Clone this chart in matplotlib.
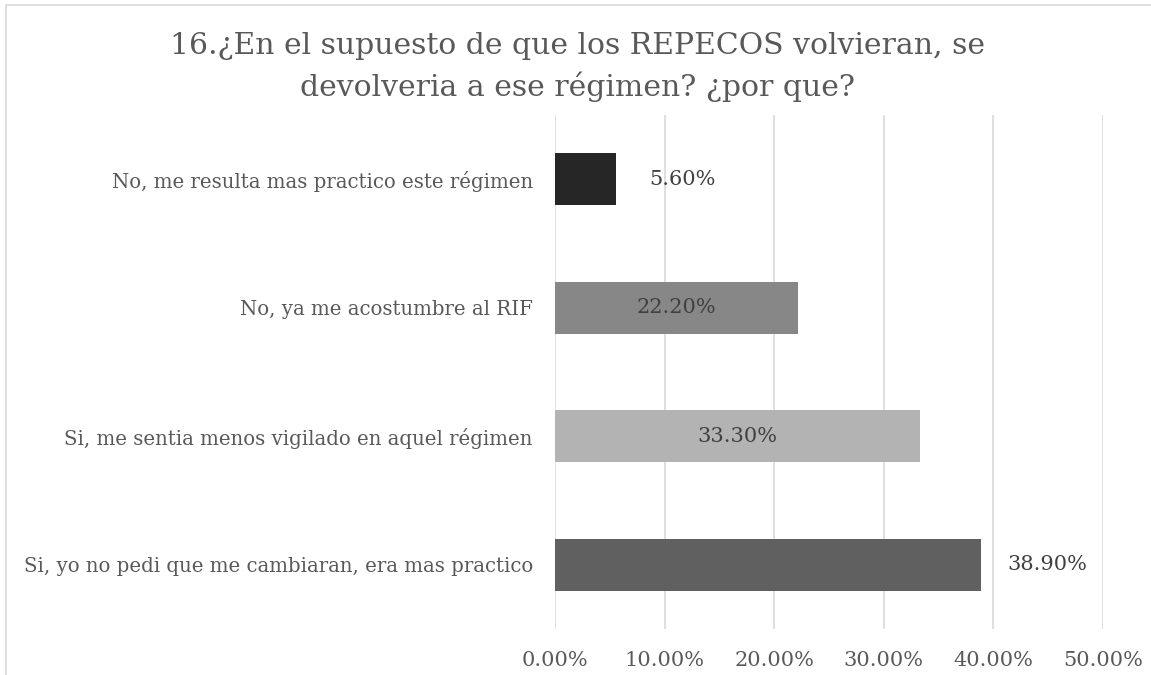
import matplotlib
matplotlib.use("Agg")
import matplotlib.pyplot as plt
from matplotlib.patches import Rectangle
from matplotlib.ticker import FuncFormatter

categories = [
    "No, me resulta mas practico este régimen",
    "No, ya me acostumbre al RIF",
    "Si, me sentia menos vigilado en aquel régimen",
    "Si, yo no pedi que me cambiaran, era mas practico",
]
values = [5.6, 22.2, 33.3, 38.9]
colors = ["#262626", "#878787", "#b3b3b3", "#606060"]
label_inside = [False, True, True, False]
xticks = [0, 10, 20, 30, 40, 50]
title = "16.¿En el supuesto de que los REPECOS volvieran, se\ndevolveria a ese régimen? ¿por que?"

FONT = "DejaVu Serif"
TXT = "#595959"

fig = plt.figure(figsize=(11.51, 6.75), dpi=100)
fig.patches.append(Rectangle((6/1151, -0.1), 1.2, 1 - 5/675 + 0.1, transform=fig.transFigure,
                             fill=False, edgecolor="#d9d9d9", linewidth=1.2))
ax = fig.add_axes([555/1151, 1 - 629/675, (1103 - 555)/1151, (629 - 115)/675])

ypos = list(range(len(categories)))
ax.barh(ypos, values, height=0.405, color=colors, zorder=3)
ax.set_ylim(len(categories) - 0.5, -0.5)
ax.set_xlim(0, 50)
ax.set_xticks(xticks)
ax.xaxis.set_major_formatter(FuncFormatter(lambda v, p: f"{v:.2f}%"))
ax.set_yticks(ypos)
ax.set_yticklabels(categories)
for s in ax.spines.values():
    s.set_visible(False)
ax.grid(axis="x", color="#d9d9d9", linewidth=1.2, zorder=0)
ax.tick_params(axis="both", length=0, labelcolor=TXT)
ax.tick_params(axis="x", pad=16, labelsize=15)
ax.tick_params(axis="y", pad=16, labelsize=14.2)
for lab in ax.get_xticklabels() + ax.get_yticklabels():
    lab.set_fontfamily(FONT)

for y, v, inside in zip(ypos, values, label_inside):
    xpos = v / 2 if inside else v + 6.0
    ax.text(xpos, y, f"{v:.2f}%", ha="center", va="center", fontsize=15,
            family=FONT, color="#404040", zorder=4)

fig.text(578/1151, 1 - 67/675, title, ha="center", va="center", fontsize=21.5,
         family=FONT, color=TXT, linespacing=1.45)

fig.savefig("out.png", dpi=100)
